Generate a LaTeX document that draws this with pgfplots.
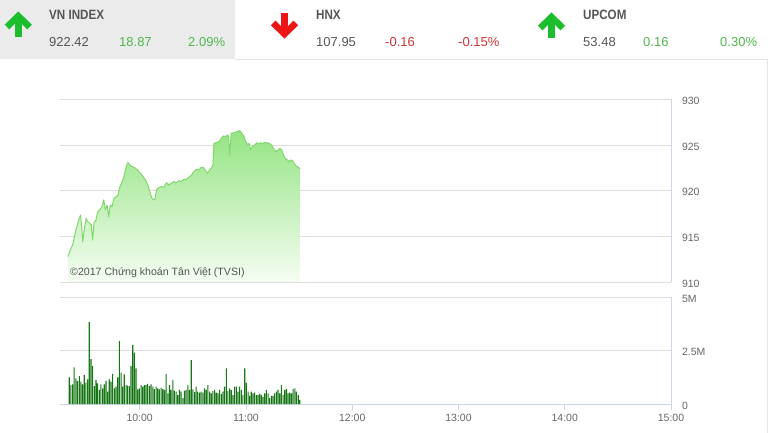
\documentclass[border=0pt]{standalone}
\usepackage{pgfplots}
\pgfplotsset{compat=1.18}
\usepackage{pgfplotstable}
\usepackage{fontspec}
\setmainfont{Liberation Sans}
\newfontfamily\condfont{Liberation Sans}[FakeStretch=0.86]
\usepackage{graphicx}

\definecolor{gridc}{RGB}{222,222,222}
\definecolor{axisc}{RGB}{204,214,235}
\definecolor{tickc}{RGB}{102,102,102}
\definecolor{hdrbg}{RGB}{235,235,235}
\definecolor{panelc}{RGB}{228,228,228}
\definecolor{upgreen}{RGB}{28,190,45}
\definecolor{dnred}{RGB}{236,22,22}
\definecolor{numgreen}{RGB}{80,182,80}
\definecolor{numred}{RGB}{212,50,50}
\definecolor{txtgray}{RGB}{85,85,85}
\definecolor{volc}{RGB}{22,118,22}
\definecolor{areatop}{RGB}{148,228,130}
\definecolor{areamid}{RGB}{180,238,166}
\definecolor{areabot}{RGB}{246,253,244}
\definecolor{linec}{RGB}{128,216,108}

\pgfplotstableread{
m v
19.5 912.78
20.8 913.51
22.1 914.05
23.2 914.97
24.0 915.70
25.1 916.43
25.9 916.98
26.6 917.34
27.4 915.70
27.8 914.42
28.7 915.70
29.7 916.98
30.6 916.61
31.7 916.43
32.7 916.25
33.4 914.60
34.2 916.43
35.3 916.80
36.3 917.71
37.4 917.89
38.7 918.26
39.7 918.99
40.6 917.89
41.6 918.44
42.5 917.16
43.4 918.44
44.4 918.26
45.5 919.17
46.6 919.35
47.8 919.54
48.5 920.27
49.7 920.82
51.0 921.47
51.9 922.28
52.9 922.94
53.4 923.08
54.8 922.72
56.1 922.64
57.6 922.46
59.1 922.20
60.4 921.91
61.7 921.62
63.3 921.18
64.6 920.63
65.7 919.90
66.7 919.28
67.6 919.06
68.5 918.99
69.5 920.09
70.8 920.38
72.3 920.45
73.6 920.38
75.1 920.89
76.5 920.63
77.8 920.82
79.3 921.00
80.6 920.89
82.1 921.11
83.4 921.00
85.0 921.25
86.3 921.25
87.8 921.47
89.3 921.73
90.6 922.10
91.9 922.35
93.4 922.28
94.8 922.57
95.9 922.57
97.2 922.20
98.4 921.91
99.5 922.28
100.6 922.53
101.4 922.83
101.9 925.20
103.3 925.27
104.8 925.38
106.1 925.75
107.2 926.01
108.5 925.93
109.5 926.12
110.2 925.93
110.8 923.92
111.7 926.30
113.8 926.37
115.1 926.48
116.5 926.59
117.6 926.30
118.9 925.93
119.9 925.38
121.0 925.02
121.8 925.20
122.7 924.47
123.6 924.84
125.0 925.02
126.1 925.27
127.4 925.13
128.4 925.27
129.3 925.13
130.2 925.27
131.6 925.27
133.1 925.20
134.4 925.02
135.5 924.65
136.8 924.29
138.2 924.47
139.1 924.65
140.2 924.47
141.2 923.92
142.1 923.56
143.5 923.37
144.4 923.19
145.3 923.37
146.3 923.30
147.2 923.01
148.2 922.72
149.1 922.64
150.5 922.42
}\price

\pgfplotstableread{
m vol
20.2 1.25
21.1 0.89
22.1 0.92
23.0 1.72
24.0 1.20
24.9 1.09
25.9 1.31
26.8 1.05
27.7 0.92
28.7 1.36
29.6 1.00
30.6 1.16
31.5 3.84
32.5 2.11
33.4 1.78
34.4 0.84
35.3 1.13
36.2 0.97
37.2 0.66
38.1 0.92
39.1 0.73
40.0 0.92
41.0 1.09
41.9 0.58
42.8 1.16
43.8 1.05
44.7 1.41
45.7 0.73
46.6 0.81
47.6 1.25
48.5 2.95
49.5 1.47
50.4 0.81
51.3 1.39
52.3 0.89
53.2 0.86
54.2 0.84
55.1 1.78
56.1 2.77
57.0 2.41
57.9 1.67
58.9 0.69
59.8 0.73
60.8 0.89
61.7 0.81
62.7 0.89
63.6 0.89
64.5 0.94
65.5 0.84
66.4 0.92
67.4 0.81
68.3 0.70
69.3 0.81
70.2 0.73
71.1 0.69
72.1 0.77
73.0 0.70
74.0 0.66
74.9 1.41
75.9 0.50
76.8 0.89
77.7 0.66
78.7 1.13
79.6 0.63
80.6 0.58
81.5 0.42
82.5 0.66
83.4 0.58
84.4 0.27
85.3 0.63
86.2 0.66
87.2 0.89
88.1 0.66
89.1 2.06
90.0 0.69
91.0 0.56
91.9 0.81
92.8 0.58
93.8 0.53
94.7 0.58
95.7 0.53
96.6 0.73
97.6 0.66
98.5 0.89
99.5 0.58
100.4 0.50
101.3 0.61
102.3 0.66
103.2 0.53
104.2 0.50
105.1 0.66
106.1 0.47
107.0 0.58
107.9 0.81
108.9 1.67
109.8 0.61
110.8 0.73
111.7 0.66
112.7 0.42
113.6 0.81
114.6 0.81
115.5 0.58
116.4 0.81
117.4 0.66
118.3 0.42
119.3 1.67
120.2 1.00
121.2 0.58
122.1 0.38
123.0 0.58
124.0 0.50
124.9 0.53
125.9 0.42
126.8 0.42
127.8 0.47
128.7 0.42
129.6 0.34
130.6 0.50
131.5 0.66
132.5 0.50
133.4 0.27
134.4 0.38
135.3 0.38
136.2 0.50
137.2 0.58
138.1 0.66
139.1 0.50
140.0 0.89
141.0 0.42
141.9 0.66
142.9 0.70
143.8 0.50
144.7 0.53
145.7 0.50
146.6 0.70
147.6 0.73
148.5 0.58
149.5 0.42
150.4 0.19
}\volume

\pgfplotsset{
  common/.style={
    scale only axis, width=611pt,
    xmin=15, xmax=360,
    axis line style={draw=axisc, line width=0.8pt},
    ymajorgrids, grid style={gridc, line width=0.8pt},
    ytick style={draw=none},
    tick align=outside, major tick length=6pt,
    yticklabel style={font=\fontsize{10.5}{12}\selectfont, text=tickc, xshift=1.5pt, yshift=-1.5pt},
    xticklabel style={font=\fontsize{10.5}{12}\selectfont, text=tickc, yshift=-1pt},
    /pgf/number format/assume math mode=true,
  }
}

\begin{document}
\begin{tikzpicture}
\useasboundingbox (0pt,0pt) rectangle (770pt,433pt);
\begin{scope}[x=1pt,y=1pt]
% header
\fill[hdrbg] (0,433) rectangle (235,374);
\draw[panelc, line width=0.8pt] (235,373.6) -- (767,373.6) -- (767,0);
% arrows
\draw[upgreen, line width=6.5pt, line join=miter] (7,406) -- (18.3,417) -- (29.6,406);
\draw[upgreen, line width=6.5pt] (18.3,416) -- (18.3,396);
\draw[dnred, line width=6.5pt, line join=miter] (273.2,410) -- (284.5,399) -- (295.8,410);
\draw[dnred, line width=6.5pt] (284.5,420) -- (284.5,400);
\draw[upgreen, line width=6.5pt, line join=miter] (540.2,405) -- (551.5,416) -- (562.8,405);
\draw[upgreen, line width=6.5pt] (551.5,415) -- (551.5,395);
% header texts
\begin{scope}[every node/.style={inner sep=0pt, anchor=base west}]
\node[text=txtgray] at (49,413) {\condfont\bfseries\fontsize{13.5}{15}\selectfont VN INDEX};
\node[text=txtgray] at (49,386.3) {\fontsize{13}{15}\selectfont 922.42};
\node[text=numgreen] at (119,386.3) {\fontsize{13}{15}\selectfont 18.87};
\node[text=numgreen] at (188,386.3) {\fontsize{13}{15}\selectfont 2.09\%};
\node[text=txtgray] at (316,413) {\condfont\bfseries\fontsize{13.5}{15}\selectfont HNX};
\node[text=txtgray] at (316,386.3) {\fontsize{13}{15}\selectfont 107.95};
\node[text=numred] at (385,386.3) {\fontsize{13}{15}\selectfont -0.16};
\node[text=numred] at (458,386.3) {\fontsize{13}{15}\selectfont -0.15\%};
\node[text=txtgray] at (583,413) {\condfont\bfseries\fontsize{13.5}{15}\selectfont UPCOM};
\node[text=txtgray] at (583,386.3) {\fontsize{13}{15}\selectfont 53.48};
\node[text=numgreen] at (643,386.3) {\fontsize{13}{15}\selectfont 0.16};
\node[text=numgreen] at (720,386.3) {\fontsize{13}{15}\selectfont 0.30\%};
\end{scope}
\end{scope}

% price panel
\begin{axis}[common,
  at={(60pt,151pt)}, anchor=south west, height=182.5pt,
  ymin=910, ymax=930,
  axis x line=none, axis y line*=right,
  ytick={910,915,920,925,930},
]
\addplot[top color=areatop, middle color=areamid, bottom color=areabot, draw=none]
  table[x=m, y=v] {\price} -- (axis cs:150.5,910) -- (axis cs:19.5,910) -- cycle;
\addplot[draw=linec, line width=1pt, line join=round] table[x=m, y=v] {\price};
\end{axis}
\node[anchor=west, inner sep=0pt, text=txtgray] at (70pt,160pt) {\fontsize{10.6}{12}\selectfont ©2017 Chứng khoán Tân Việt (TVSI)};
% volume panel
\begin{axis}[common,
  at={(60pt,29pt)}, anchor=south west, height=106.5pt,
  ymin=0, ymax=5,
  axis x line*=bottom, axis y line*=right,
  xtick={60,120,180,240,300,360},
  xticklabels={10:00,11:00,12:00,13:00,14:00,15:00},
  xtick style={draw=axisc, line width=0.8pt},
  ytick={0,2.5,5}, yticklabels={0,2.5M,5M},
]
\addplot[ybar, bar width=1.1pt, fill=volc, draw=none] table[x=m, y=vol] {\volume};
\end{axis}
\end{tikzpicture}
\end{document}
